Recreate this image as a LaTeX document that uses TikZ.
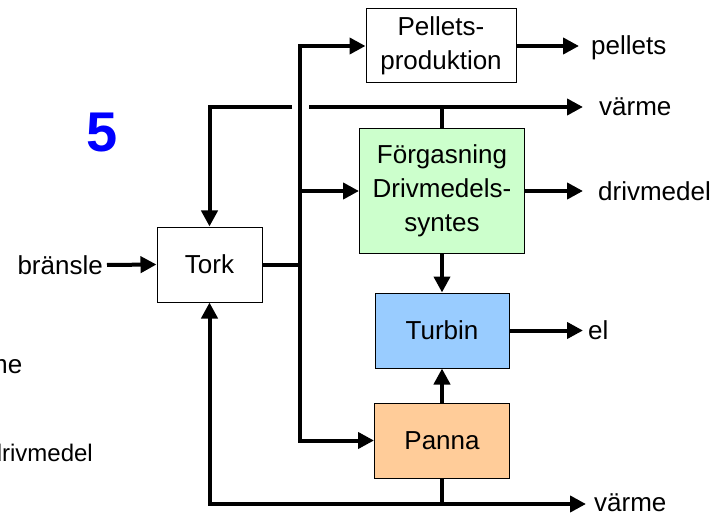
\documentclass[tikz,border=0pt]{standalone}
\usepackage{fontspec}
\setmainfont{Liberation Sans}
\usetikzlibrary{arrows.meta}
\definecolor{fggreen}{HTML}{CCFFCC}
\definecolor{tbblue}{HTML}{99CCFF}
\definecolor{paorange}{HTML}{FFCC99}
\tikzset{
  box/.style={draw=black, line width=1pt, inner sep=0pt, align=center,
    font=\fontsize{26}{34}\selectfont},
  lbl/.style={inner sep=0pt, font=\fontsize{26}{30}\selectfont},
  flow/.style={line width=4pt},
  arr/.style={line width=4pt, -{Triangle[length=16pt,width=16pt]}},
}
\begin{document}
\begin{tikzpicture}[x=1pt,y=-1pt]
\useasboundingbox (0,0) rectangle (718,516);
% boxes
\node[box, minimum width=150pt, minimum height=74pt] (pel) at (441,46) {Pellets-\\produktion};
\node[box, fill=fggreen, minimum width=165pt, minimum height=124pt] (fg) at (442,191) {Förgasning\\Drivmedels-\\syntes};
\node[box, fill=tbblue, minimum width=134pt, minimum height=75pt] (tur) at (442,330.5) {Turbin};
\node[box, fill=paorange, minimum width=135pt, minimum height=75pt] (pan) at (442,440.5) {Panna};
\node[box, minimum width=105pt, minimum height=75pt] (tork) at (209.5,264.5) {Tork};
% number
\node[inner sep=0pt, text=blue, font=\fontsize{56}{60}\selectfont\bfseries] (num) at (102,133) {5};
% coordinates
\coordinate (bM) at (300,264.5);
\coordinate (bT) at (300,46);
\coordinate (bF) at (300,191);
\coordinate (bB) at (300,440.5);
\coordinate (vT) at (442,107);
\coordinate (vL) at (209.5,107);
\coordinate (gapL) at (292,107);
\coordinate (gapR) at (309,107);
\coordinate (vEnd) at (583,107);
\coordinate (vB) at (442,504);
\coordinate (vBL) at (209.5,504);
\coordinate (vBEnd) at (586,504);
\coordinate (pEnd) at (579,46);
\coordinate (dEnd) at (583,191);
\coordinate (eEnd) at (583,330.5);
% labels
\node[lbl, anchor=west] (lpel) at (591,48) {pellets};
\node[lbl, anchor=west] (lv1) at (599,107) {värme};
\node[lbl, anchor=west] (ldr) at (598,191) {drivmedel};
\node[lbl, anchor=west] (lel) at (588,330.5) {el};
\node[lbl, anchor=west] (lv2) at (594,503) {värme};
\node[lbl, anchor=east] (lbr) at (103,265) {bränsle};
\node[lbl, anchor=base east] (lcut1) at (22.5,373) {värme};
\node[inner sep=0pt, anchor=base east, font=\fontsize{24}{28}\selectfont] (lcut2) at (93,461) {drivmedel};
% connectors
\draw[arr] ([xshift=4pt]lbr.east) -- (tork.west);
\draw[flow] (tork.east) -- (bM);
\draw[arr] (bM) -- (bT) -- (pel.west);
\draw[arr] (bM) -- (bB) -- (pan.west);
\draw[arr] (bF) -- (fg.west);
\draw[arr] (pel.east) -- (pEnd);
\draw[arr] (fg.east) -- (dEnd);
\draw[arr] (tur.east) -- (eEnd);
\draw[flow] (fg.north) -- (vT);
\draw[arr] (gapR) -- (vEnd);
\draw[arr] (gapL) -- (vL) -- (tork.north);
\draw[arr] (fg.south) -- (tur.north);
\draw[arr] (pan.north) -- (tur.south);
\draw[flow] (pan.south) -- (vB);
\draw[arr] (vBL) -- (vBEnd);
\draw[arr] (vB) -- (vBL) -- (tork.south);
\end{tikzpicture}
\end{document}
